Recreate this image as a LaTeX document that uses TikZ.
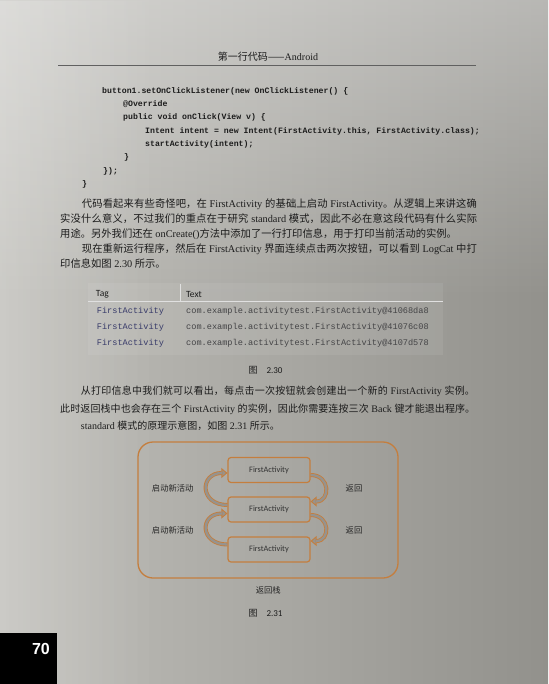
\documentclass[tikz,border=0pt]{standalone}
\usepackage{fontspec}
\setmainfont{Liberation Serif}
\newfontfamily\cjk{Noto Sans CJK SC}
\newfontfamily\codefont{Liberation Mono}
\newfontfamily\uifont{Carlito}
\newfontfamily\numfont{Liberation Sans}
\usetikzlibrary{calc,arrows.meta,fadings}
\XeTeXlinebreaklocale "zh"
\XeTeXlinebreakskip=0pt plus 1pt minus .2pt
\XeTeXlinebreakpenalty=10000
\hyphenpenalty=10000
\exhyphenpenalty=10000
\newcommand{\zh}[1]{{\cjk #1}}
\newcommand{\jline}[2]{\parbox{#1}{\parfillskip=0pt\relax #2}}
\definecolor{ink}{RGB}{28,28,28}
\definecolor{orng}{RGB}{196,126,62}
\definecolor{bandgray}{RGB}{150,147,142}
\definecolor{tagblue}{RGB}{55,58,105}
\definecolor{logtext}{RGB}{68,68,70}
\definecolor{pageL}{RGB}{192,191,186}
\definecolor{pageR}{RGB}{146,145,140}

\begin{document}
\begin{tikzpicture}[x=1pt,y=-1pt,
  bodyA/.style={anchor=west,inner sep=0pt,text=ink,font=\fontsize{10.3}{12}\selectfont},
  bodyB/.style={anchor=west,inner sep=0pt,text=ink,font=\fontsize{10}{12}\selectfont},
  codeline/.style={anchor=west,inner sep=0pt,text=ink,font=\codefont\bfseries\fontsize{8.2}{10}\selectfont},
  tagcell/.style={anchor=west,inner sep=0pt,text=tagblue,font=\codefont\fontsize{8.6}{10}\selectfont},
  txtcell/.style={anchor=west,inner sep=0pt,text=logtext,font=\codefont\fontsize{8.6}{10}\selectfont},
  headcell/.style={anchor=west,inner sep=0pt,text=ink,font=\uifont\fontsize{9.5}{10}\selectfont},
  caption/.style={inner sep=0pt,text=ink,font=\fontsize{9}{10}\selectfont},
  stackbox/.style={draw=orng,line width=1.3pt,rounded corners=15pt,minimum width=260pt,minimum height=136pt,inner sep=0pt},
  actbox/.style={draw=orng,line width=1.2pt,rounded corners=3pt,minimum width=82pt,minimum height=25pt,inner sep=0pt,text=black!80,font=\uifont\fontsize{8.3}{10}\selectfont},
  steplabel/.style={inner sep=0pt,text=black!85,font=\cjk\fontsize{8.3}{10}\selectfont},
  band/.style={draw=orng,line width=4pt,-{Triangle[open,fill=bandgray,length=6pt,width=10pt,line width=.9pt]},
    postaction={draw=bandgray,line width=2.3pt,-,shorten >=5.5pt}}]
  \useasboundingbox (0,0) rectangle (548,684);
  \shade[left color=pageL,right color=pageR] (0,0) rectangle (548,684);
  \fill[white,path fading=south,fill opacity=.35] (0,0) rectangle (548,300);
  \fill[white,path fading=east,fill opacity=.18] (0,0) rectangle (160,684);

  \node[bodyB,anchor=center] (head) at (268,56.5) {\zh{第一行代码——}Android};
  \draw[ink!70,line width=.5pt] (58,65.5) -- (476,65.5);

  \foreach \x/\y/\t in {102/91/{button1.setOnClickListener(new OnClickListener() \{},
      123/104/{@Override}, 123/117/{public void onClick(View v) \{},
      145/131/{Intent intent = new Intent(FirstActivity.this, FirstActivity.class);},
      145/144/{startActivity(intent);}, 124/157/{\}}, 103/171/{\});}, 82/184/{\}}}
    \node[codeline] (code\y) at (\x,\y) {\t};

  \node[bodyA] (p1a) at (81.7,204) {\jline{395pt}{\zh{代码看起来有些奇怪吧，在}~FirstActivity~\zh{的基础上启动}~FirstActivity\zh{。从逻辑上来讲这确}}};
  \node[bodyA] (p1b) at (60,219) {\jline{417pt}{\zh{实没什么意义，不过我们的重点在于研究}~standard~\zh{模式，因此不必在意这段代码有什么实际}}};
  \node[bodyA] (p1c) at (60,234) {\zh{用途。另外我们还在}~onCreate()\zh{方法中添加了一行打印信息，用于打印当前活动的实例。}};
  \node[bodyA] (p1d) at (81.7,249.5) {\jline{395pt}{\zh{现在重新运行程序，然后在}~FirstActivity~\zh{界面连续点击两次按钮，可以看到}~LogCat~\zh{中打}}};
  \node[bodyA] (p1e) at (60,263.5) {\zh{印信息如图}~2.30~\zh{所示。}};

  \fill[white,fill opacity=.07] (88,283) rectangle (443,355);
  \draw[white!88!black,line width=.6pt] (88,301.7) -- (443,301.7);
  \draw[white!88!black,line width=.6pt] (180,284) -- (180,301.7);
  \node[headcell] (tag) at (95.7,294) {Tag};
  \node[headcell] (text) at (186,294) {Text};
  \foreach \y/\id in {311.7/41068da8, 327.3/41076c08, 343.3/4107d578}{
    \node[tagcell] (tag\id) at (96.7,\y) {FirstActivity};
    \node[txtcell] (log\id) at (186,\y) {com.example.activitytest.FirstActivity@\id};
  }
  \node[caption] (fig230) at (265.5,370.7) {\zh{图}\quad{\uifont 2.30}};

  \node[bodyB] (p2a) at (80.7,391.7) {\jline{394pt}{\zh{从打印信息中我们就可以看出，每点击一次按钮就会创建出一个新的}~FirstActivity~\zh{实例。}}};
  \node[bodyB] (p2b) at (60,409) {\jline{415pt}{\zh{此时返回栈中也会存在三个}~FirstActivity~\zh{的实例，因此你需要连按三次}~Back~\zh{键才能退出程序。}}};
  \node[bodyB] (p2c) at (80.7,425.7) {standard~\zh{模式的原理示意图，如图}~2.31~\zh{所示。}};

  \node[stackbox] (stack) at (268,510) {};
  \foreach \n/\y in {1/470,2/509.5,3/549.5}
    \node[actbox] (fa\n) at (269,\y) {FirstActivity};
  \draw[band] ($(fa2.west)+(0,-4.5)$) .. controls +(-28,0) and +(-28,0) .. ($(fa1.west)+(0,3)$);
  \draw[band] ($(fa3.west)+(0,-5)$) .. controls +(-28,0) and +(-28,0) .. ($(fa2.west)+(0,4)$);
  \draw[band] ($(fa1.east)+(0,5)$) .. controls +(20,0) and +(20,0) .. ($(fa2.east)+(0,-8)$);
  \draw[band] ($(fa2.east)+(0,5.5)$) .. controls +(20,0) and +(20,0) .. ($(fa3.east)+(0,-8.5)$);
  \node[steplabel] (go1) at (172.7,488.3) {启动新活动};
  \node[steplabel] (go2) at (172.7,530.7) {启动新活动};
  \node[steplabel] (back1) at (354,488.3) {返回};
  \node[steplabel] (back2) at (354,530.7) {返回};
  \node[steplabel] (stacklabel) at (268.3,590.7) {返回栈};
  \node[caption] (fig231) at (265.5,612.8) {\zh{图}\quad{\uifont 2.31}};

  \fill[black] (0,633) rectangle (56.5,684);
  \node[text=white,font=\numfont\bfseries\fontsize{16}{18}\selectfont] (pagenum) at (41,649) {70};
\end{tikzpicture}
\end{document}
